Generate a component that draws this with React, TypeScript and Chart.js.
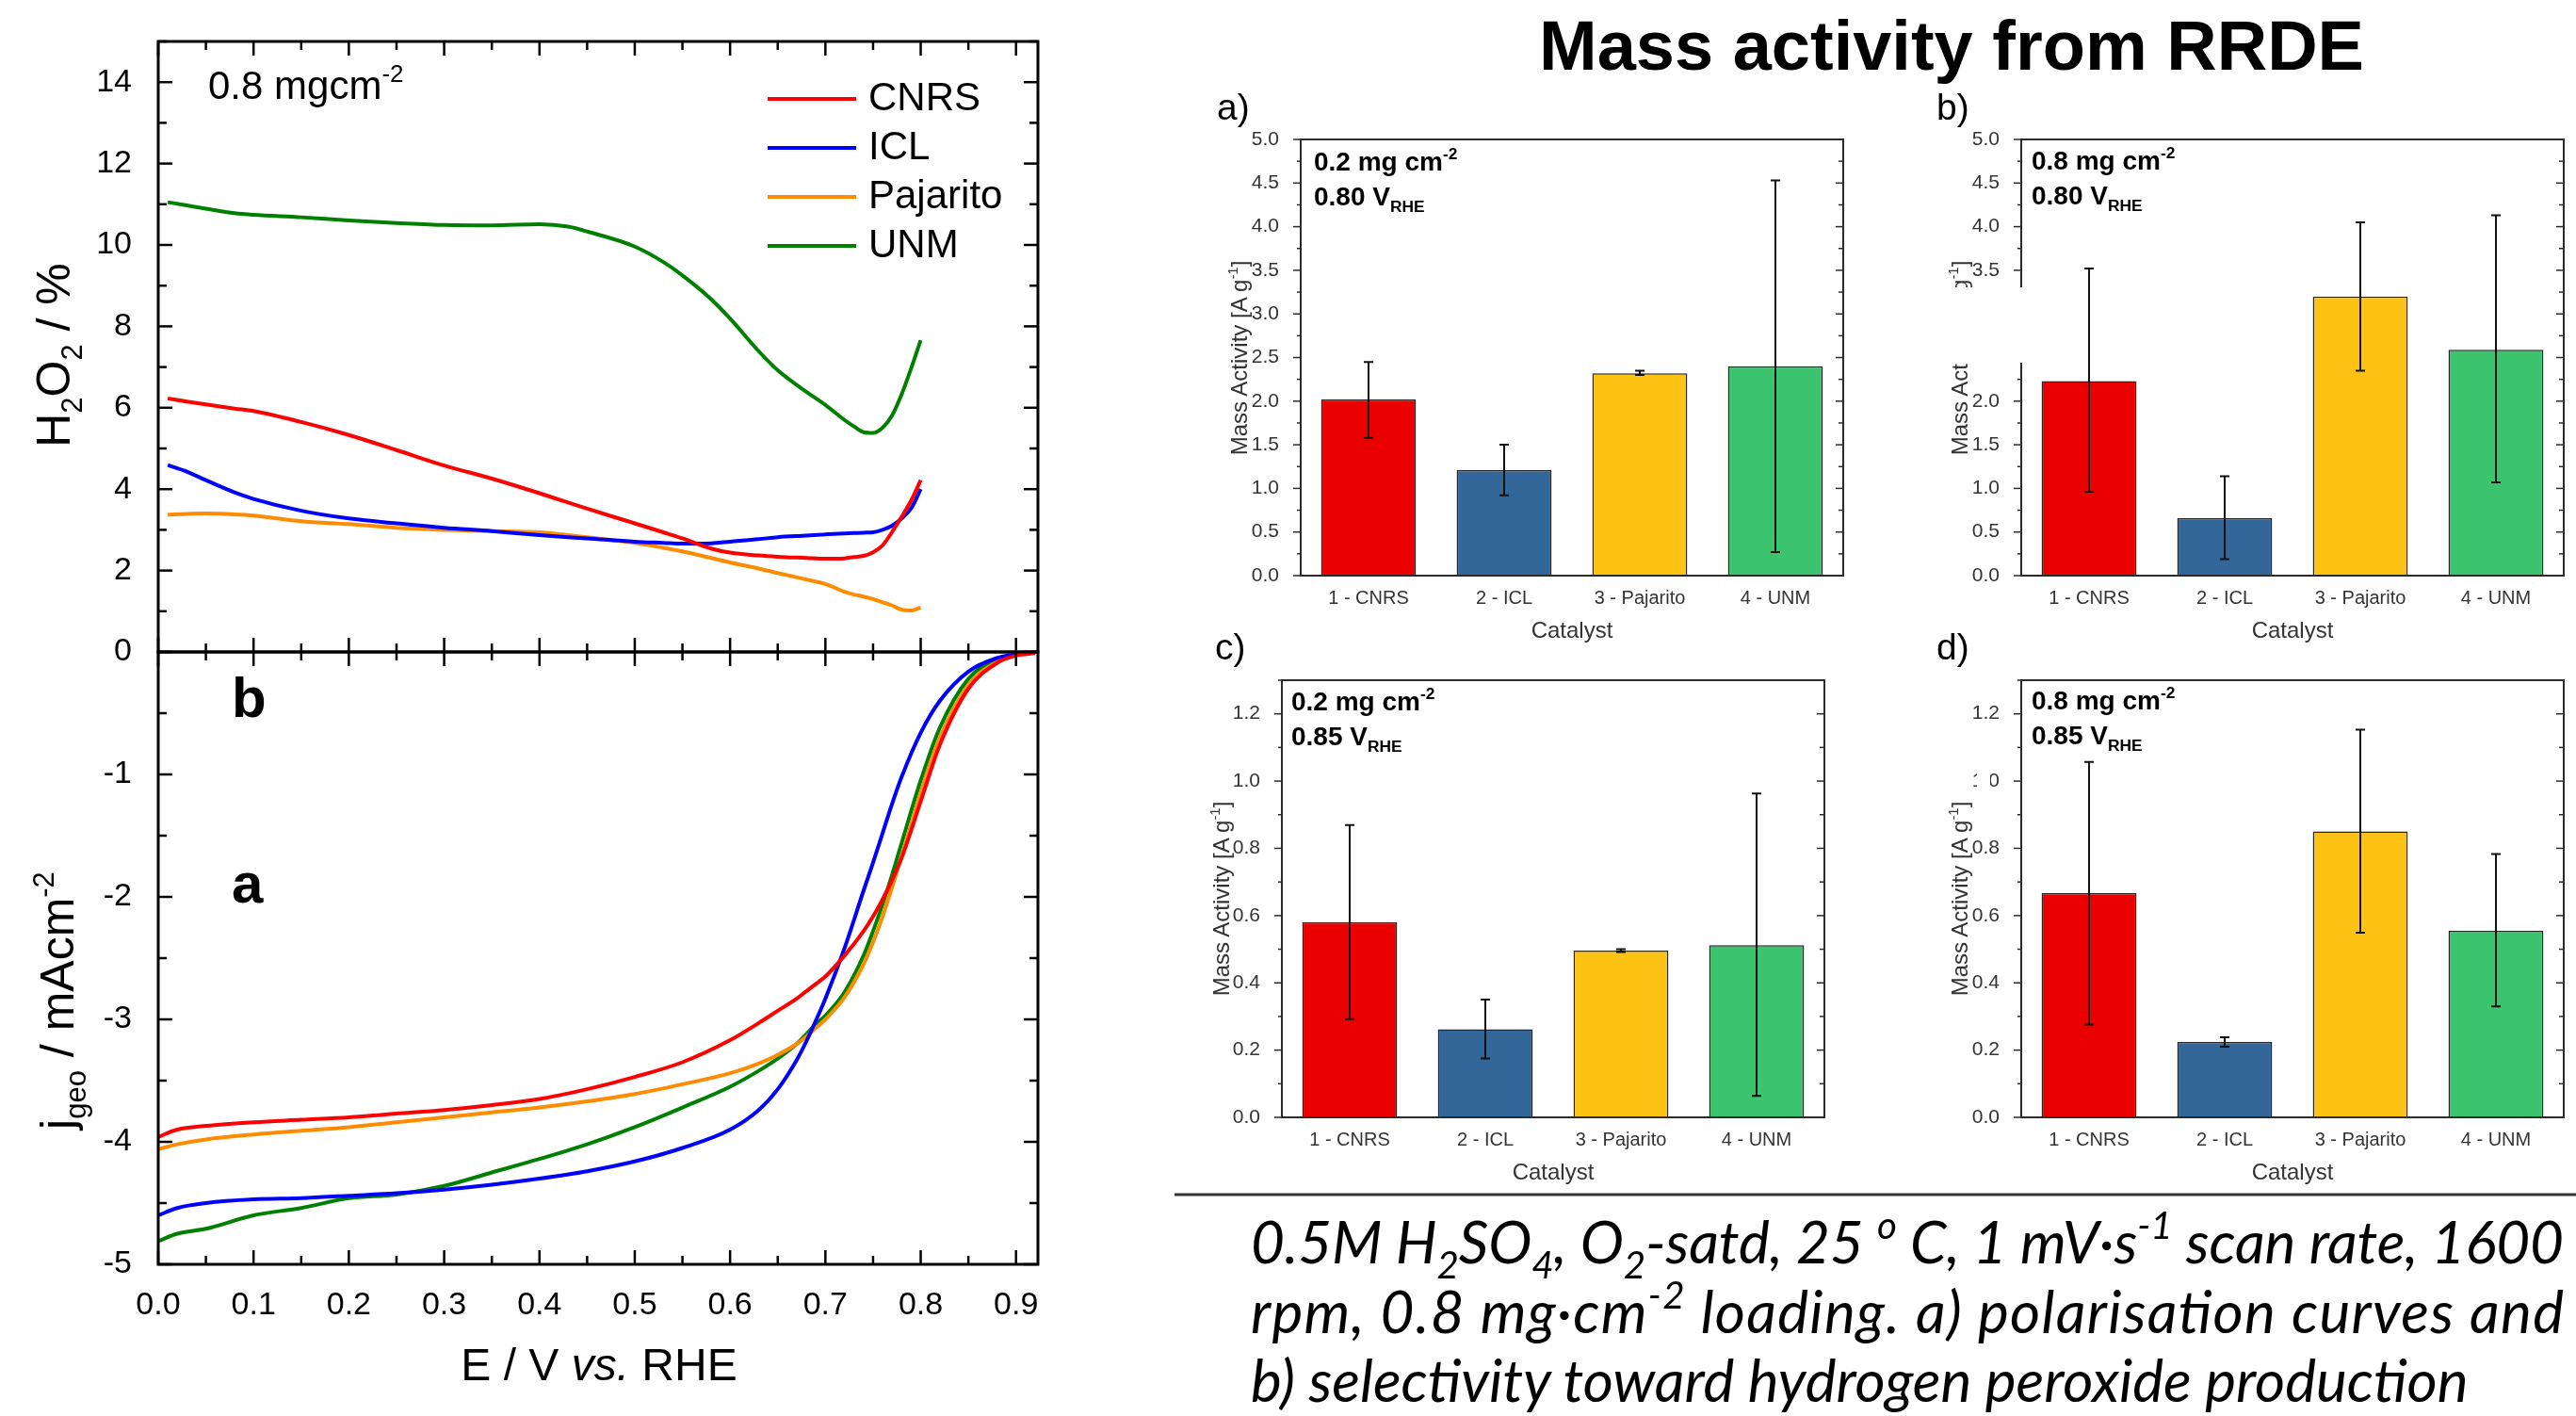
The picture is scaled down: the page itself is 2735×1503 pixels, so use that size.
import React, { useEffect, useRef } from 'react';
import { Chart, registerables } from 'chart.js';

Chart.register(...registerables);

const SANS = '"Liberation Sans", Arial, Helvetica, sans-serif';
const CAPTION_FONT = 'Lato, "Open Sans", "Noto Sans", sans-serif';

// ---------- Left panel: H2O2 selectivity (%) vs E ----------
const h2o2Potential = [0.01, 0.03, 0.05, 0.08, 0.1, 0.15, 0.2, 0.25, 0.3, 0.35, 0.4, 0.43, 0.45, 0.5, 0.53, 0.55, 0.58, 0.6, 0.63, 0.65, 0.68, 0.7, 0.72, 0.73, 0.74, 0.75, 0.76, 0.77, 0.78, 0.79, 0.8];
const h2o2CNRS = [6.23, 6.15, 6.08, 5.98, 5.92, 5.65, 5.33, 4.96, 4.58, 4.26, 3.9, 3.67, 3.52, 3.16, 2.94, 2.79, 2.54, 2.44, 2.37, 2.34, 2.31, 2.29, 2.3, 2.33, 2.36, 2.45, 2.62, 2.95, 3.32, 3.72, 4.22];
const h2o2ICL = [4.59, 4.43, 4.22, 3.92, 3.76, 3.47, 3.28, 3.16, 3.05, 2.97, 2.87, 2.82, 2.79, 2.71, 2.68, 2.66, 2.67, 2.71, 2.77, 2.82, 2.86, 2.89, 2.91, 2.92, 2.93, 2.94, 3.0, 3.1, 3.28, 3.53, 4.0];
const h2o2Pajarito = [3.37, 3.39, 3.4, 3.38, 3.35, 3.21, 3.14, 3.05, 3.0, 2.97, 2.94, 2.87, 2.82, 2.68, 2.56, 2.47, 2.31, 2.2, 2.05, 1.94, 1.78, 1.67, 1.48, 1.41, 1.36, 1.3, 1.22, 1.14, 1.04, 1.02, 1.09];
const h2o2UNM = [11.05, 10.97, 10.89, 10.78, 10.74, 10.68, 10.6, 10.54, 10.49, 10.48, 10.51, 10.45, 10.33, 9.96, 9.58, 9.25, 8.67, 8.19, 7.39, 6.92, 6.39, 6.07, 5.7, 5.54, 5.4, 5.38, 5.51, 5.81, 6.33, 6.97, 7.66];

// ---------- Left panel: polarisation curves j_geo (mA cm-2) vs E ----------
const jPotential = [0, 0.02, 0.05, 0.1, 0.15, 0.2, 0.25, 0.3, 0.35, 0.4, 0.45, 0.5, 0.55, 0.6, 0.63, 0.65, 0.67, 0.68, 0.69, 0.7, 0.72, 0.74, 0.75, 0.76, 0.77, 0.78, 0.8, 0.82, 0.85, 0.88, 0.9, 0.92];
const jCNRS = [-3.96, -3.9, -3.87, -3.84, -3.82, -3.8, -3.77, -3.74, -3.7, -3.65, -3.57, -3.47, -3.35, -3.17, -3.03, -2.93, -2.83, -2.77, -2.71, -2.65, -2.48, -2.28, -2.16, -2.02, -1.86, -1.68, -1.22, -0.76, -0.3, -0.09, -0.03, -0.01];
const jICL = [-4.6, -4.54, -4.5, -4.47, -4.46, -4.44, -4.42, -4.39, -4.35, -4.3, -4.24, -4.16, -4.05, -3.9, -3.74, -3.57, -3.33, -3.18, -3.01, -2.83, -2.42, -1.95, -1.72, -1.48, -1.24, -1.02, -0.66, -0.4, -0.16, -0.05, -0.02, 0];
const jPajarito = [-4.06, -4.02, -3.98, -3.94, -3.91, -3.88, -3.84, -3.8, -3.76, -3.72, -3.67, -3.61, -3.53, -3.44, -3.36, -3.29, -3.2, -3.14, -3.07, -3.0, -2.82, -2.55, -2.37, -2.16, -1.92, -1.67, -1.15, -0.7, -0.27, -0.08, -0.02, 0];
const jUNM = [-4.81, -4.75, -4.71, -4.6, -4.54, -4.46, -4.43, -4.36, -4.25, -4.14, -4.02, -3.88, -3.72, -3.55, -3.42, -3.32, -3.2, -3.12, -3.04, -2.97, -2.78, -2.48, -2.28, -2.06, -1.82, -1.56, -1.05, -0.62, -0.22, -0.06, -0.02, 0];

const seriesNames = ['CNRS', 'ICL', 'Pajarito', 'UNM'];
const seriesColors = ['#FF0000', '#0000FF', '#FF8C00', '#008000'];
const h2o2Series = [h2o2CNRS, h2o2ICL, h2o2Pajarito, h2o2UNM];
const jSeries = [jCNRS, jICL, jPajarito, jUNM];

// ---------- Right panel: mass activity bars ----------
const catalysts = ['1 - CNRS', '2 - ICL', '3 - Pajarito', '4 - UNM'];
const barColors = ['#EB0000', '#336699', '#FDC314', '#3CC36D'];

const maA = [2.02, 1.21, 2.32, 2.4];
const maALow = [1.58, 0.92, 2.3, 0.27];
const maAHigh = [2.45, 1.5, 2.35, 4.53];

const maB = [2.23, 0.66, 3.2, 2.59];
const maBLow = [0.96, 0.19, 2.35, 1.07];
const maBHigh = [3.52, 1.14, 4.05, 4.13];

const maC = [0.581, 0.262, 0.496, 0.512];
const maCLow = [0.292, 0.175, 0.492, 0.064];
const maCHigh = [0.869, 0.35, 0.5, 0.963];

const maD = [0.667, 0.224, 0.85, 0.555];
const maDLow = [0.276, 0.21, 0.549, 0.33];
const maDHigh = [1.057, 0.238, 1.153, 0.783];

// ---------- plugins ----------
const errorBarPlugin = {
  id: 'errorBars',
  afterDatasetsDraw(chart: any, _a: any, o: any) {
    if (!o || !o.display) return;
    const { ctx } = chart;
    const ys = chart.scales.y;
    const ds = chart.data.datasets[0];
    const meta = chart.getDatasetMeta(0);
    ctx.save();
    ctx.strokeStyle = o.color;
    ctx.lineWidth = o.width;
    meta.data.forEach((bar: any, i: number) => {
      const x = bar.x;
      const yl = ys.getPixelForValue(ds.errLow[i]);
      const yh = ys.getPixelForValue(ds.errHigh[i]);
      ctx.beginPath();
      ctx.moveTo(x, yl);
      ctx.lineTo(x, yh);
      ctx.moveTo(x - o.cap, yl);
      ctx.lineTo(x + o.cap, yl);
      ctx.moveTo(x - o.cap, yh);
      ctx.lineTo(x + o.cap, yh);
      ctx.stroke();
    });
    ctx.restore();
  },
};

const frameTicksPlugin = {
  id: 'frameTicks',
  afterDatasetsDraw(chart: any, _a: any, o: any) {
    if (!o || !o.display) return;
    const { ctx, chartArea: a } = chart;
    const xs = chart.scales.x;
    const ys = chart.scales.y;
    const marks = (scale: any, major: number, minor: number) => {
      const out: { p: number; major: boolean }[] = [];
      const lo = Math.min(scale.min, scale.max);
      const hi = Math.max(scale.min, scale.max);
      const n0 = Math.ceil(lo / minor - 1e-6);
      const n1 = Math.floor(hi / minor + 1e-6);
      for (let n = n0; n <= n1; n++) {
        const v = n * minor;
        const r = v / major;
        out.push({ p: scale.getPixelForValue(v), major: Math.abs(r - Math.round(r)) < 1e-6 });
      }
      return out;
    };
    ctx.save();
    ctx.strokeStyle = o.color;
    ctx.lineWidth = o.tickWidth;
    const sides = o.sides || {};
    if (o.yMajor) {
      const ym = marks(ys, o.yMajor, o.yMinor);
      ['left', 'right'].forEach((s) => {
        const sp = sides[s];
        if (!sp) return;
        const x0 = s === 'left' ? a.left : a.right;
        const sign = (s === 'left' ? 1 : -1) * sp.dir;
        ym.forEach((m) => {
          const len = m.major ? sp.major : sp.minor;
          ctx.beginPath();
          ctx.moveTo(x0, m.p);
          ctx.lineTo(x0 + sign * len, m.p);
          ctx.stroke();
        });
      });
    }
    if (o.xMajor) {
      const xm = marks(xs, o.xMajor, o.xMinor);
      ['top', 'bottom'].forEach((s) => {
        const sp = sides[s];
        if (!sp) return;
        const y0 = s === 'top' ? a.top : a.bottom;
        const sign = (s === 'top' ? 1 : -1) * sp.dir;
        xm.forEach((m) => {
          const len = m.major ? sp.major : sp.minor;
          ctx.beginPath();
          ctx.moveTo(m.p, y0);
          ctx.lineTo(m.p, y0 + sign * len);
          ctx.stroke();
        });
      });
    }
    ctx.lineWidth = o.frameWidth;
    ctx.strokeRect(a.left, a.top, a.right - a.left, a.bottom - a.top);
    ctx.restore();
  },
};

const lineLegendPlugin = {
  id: 'lineLegend',
  afterDraw(chart: any, _a: any, o: any) {
    if (!o || !o.display) return;
    const { ctx } = chart;
    ctx.save();
    chart.data.datasets.forEach((ds: any, i: number) => {
      const y = o.y + i * o.spacing;
      ctx.strokeStyle = ds.borderColor;
      ctx.lineWidth = o.lineWidth;
      ctx.beginPath();
      ctx.moveTo(o.x1, y);
      ctx.lineTo(o.x2, y);
      ctx.stroke();
      ctx.fillStyle = '#000';
      ctx.font = `${o.size}px ${SANS}`;
      ctx.textBaseline = 'middle';
      ctx.textAlign = 'left';
      ctx.fillText(ds.label, o.textX, y);
    });
    ctx.restore();
  },
};

// ---------- chart configs ----------
const leftSides = {
  left: { dir: 1, major: 15, minor: 9 },
  right: { dir: 1, major: 15, minor: 9 },
  top: { dir: 1, major: 15, minor: 9 },
  bottom: { dir: 1, major: 15, minor: 9 },
};

function lineDatasets(xs: number[], series: number[][]) {
  return seriesNames.map((name, i) => ({
    label: name,
    data: xs.map((x, k) => ({ x, y: series[i][k] })),
    borderColor: seriesColors[i],
    backgroundColor: seriesColors[i],
    borderWidth: 4,
    pointRadius: 0,
    cubicInterpolationMode: 'monotone',
    fill: false,
  }));
}

const tickFontLeft = { family: SANS, size: 34 };

function upperConfig() {
  return {
    type: 'line',
    data: { datasets: lineDatasets(h2o2Potential, h2o2Series) },
    options: {
      responsive: false,
      animation: false,
      devicePixelRatio: 1,
      layout: { padding: { left: 0, top: 44, right: 28, bottom: 42 } },
      plugins: {
        legend: { display: false },
        tooltip: { enabled: false },
        frameTicks: { display: true, color: '#000', tickWidth: 2.5, frameWidth: 3, sides: leftSides, xMajor: 0.1, xMinor: 0.05, yMajor: 2, yMinor: 1 },
        lineLegend: { display: true, x1: 815, x2: 909, textX: 922, y: 105, spacing: 52, lineWidth: 4, size: 42 },
      },
      scales: {
        x: { type: 'linear', min: 0, max: 0.923, display: false },
        y: {
          type: 'linear',
          min: 0,
          max: 15,
          afterFit: (s: any) => { s.width = 168; },
          grid: { display: false },
          border: { display: false },
          ticks: { stepSize: 2, includeBounds: false, padding: 20, color: '#000', font: tickFontLeft, callback: (v: any) => String(v) },
        },
      },
    },
    plugins: [frameTicksPlugin, lineLegendPlugin],
  };
}

function lowerConfig() {
  return {
    type: 'line',
    data: { datasets: lineDatasets(jPotential, jSeries) },
    options: {
      responsive: false,
      animation: false,
      devicePixelRatio: 1,
      layout: { padding: { left: 0, top: 92, right: 28, bottom: 0 } },
      plugins: {
        legend: { display: false },
        tooltip: { enabled: false },
        frameTicks: { display: true, color: '#000', tickWidth: 2.5, frameWidth: 3, sides: leftSides, xMajor: 0.1, xMinor: 0.05, yMajor: 1, yMinor: 0.5 },
      },
      scales: {
        x: {
          type: 'linear',
          min: 0,
          max: 0.923,
          afterFit: (s: any) => { s.height = 161; },
          grid: { display: false },
          border: { display: false },
          ticks: { stepSize: 0.1, includeBounds: false, padding: 15, color: '#000', font: tickFontLeft, autoSkip: false, maxRotation: 0, callback: (v: any) => Number(v).toFixed(1) },
        },
        y: {
          type: 'linear',
          min: -5,
          max: 0,
          afterFit: (s: any) => { s.width = 168; },
          grid: { display: false },
          border: { display: false },
          ticks: { stepSize: 1, includeBounds: false, padding: 20, color: '#000', font: tickFontLeft, callback: (v: any) => (Number(v) === 0 ? '' : String(v)) },
        },
      },
    },
    plugins: [frameTicksPlugin],
  };
}

function barConfig(values: number[], low: number[], high: number[], ymax: number, ystep: number, padRight: number) {
  return {
    type: 'bar',
    data: {
      labels: catalysts,
      datasets: [{
        data: values,
        errLow: low,
        errHigh: high,
        backgroundColor: barColors,
        borderColor: '#262626',
        borderWidth: 1.5,
        barPercentage: 0.7,
        categoryPercentage: 1,
      }],
    },
    options: {
      responsive: false,
      animation: false,
      devicePixelRatio: 1,
      layout: { padding: { left: 0, top: 28, right: padRight, bottom: 0 } },
      plugins: {
        legend: { display: false },
        tooltip: { enabled: false },
        errorBars: { display: true, color: '#111', width: 2, cap: 5 },
        frameTicks: {
          display: true, color: '#2b2b2b', tickWidth: 1.5, frameWidth: 2,
          sides: { left: { dir: -1, major: 8, minor: 4 }, right: { dir: 1, major: 8, minor: 5 } },
          yMajor: ystep, yMinor: ystep / 2,
        },
      },
      scales: {
        x: {
          afterFit: (s: any) => { s.height = 90; },
          grid: { display: false },
          border: { display: false },
          ticks: { padding: 4, color: '#333', font: { family: SANS, size: 20 }, autoSkip: false, maxRotation: 0 },
          title: { display: true, text: 'Catalyst', color: '#333', font: { family: SANS, size: 24 }, padding: { top: 0, bottom: 16 } },
        },
        y: {
          min: 0,
          max: ymax,
          afterFit: (s: any) => { s.width = 80; },
          grid: { display: false },
          border: { display: false },
          ticks: { stepSize: ystep, includeBounds: false, padding: 15, color: '#333', font: { family: SANS, size: 21 }, callback: (v: any) => Number(v).toFixed(1) },
        },
      },
    },
    plugins: [errorBarPlugin, frameTicksPlugin],
  };
}

// ---------- components ----------
type Box = { left: number; top: number; width: number; height: number };

function ChartCanvas({ box, make }: { box: Box; make: () => any }) {
  const ref = useRef<HTMLCanvasElement | null>(null);
  useEffect(() => {
    if (!ref.current) return;
    const chart = new Chart(ref.current, make());
    return () => chart.destroy();
  }, []);
  return (
    <div style={{ position: 'absolute', left: box.left, top: box.top, width: box.width, height: box.height }}>
      <canvas ref={ref} width={box.width} height={box.height} style={{ display: 'block' }} />
    </div>
  );
}

type Seg = [string, string?];

function RichText(props: {
  x: number; y: number; size: number; segs: Seg[]; anchor?: string; rotate?: number;
  bold?: boolean; italic?: boolean; family?: string; color?: string; fit?: number; scriptScale?: number;
}) {
  const { x, y, size, segs, anchor = 'start', rotate = 0, bold = false, italic = false, family = SANS, color = '#000', fit, scriptScale = 0.62 } = props;
  let shift = 0;
  const kids = segs.map(([t, kind], i) => {
    const target = kind === 'sub' ? size * 0.26 : kind === 'sup' ? -size * 0.42 : 0;
    const dy = target - shift;
    shift = target;
    const small = kind === 'sub' || kind === 'sup';
    return (
      <tspan key={i} dy={dy} fontSize={small ? size * scriptScale : size} fontStyle={kind === 'i' ? 'italic' : undefined}>
        {t}
      </tspan>
    );
  });
  return (
    <text
      x={x}
      y={y}
      fontSize={size}
      fontFamily={family}
      fontWeight={bold ? 700 : 400}
      fontStyle={italic ? 'italic' : 'normal'}
      textAnchor={anchor as any}
      fill={color}
      transform={rotate ? `rotate(${rotate} ${x} ${y})` : undefined}
      textLength={fit}
      lengthAdjust={fit ? 'spacing' : undefined}
      style={{ whiteSpace: 'pre' }}
    >
      {kids}
    </text>
  );
}

const massTitle: Seg[] = [['Mass Activity [A g'], ['-1', 'sup'], [']']];

export default function App() {
  return (
    <div style={{ position: 'absolute', left: 0, top: 0, width: 2735, height: 1503, background: '#fff', overflow: 'hidden' }}>
      <ChartCanvas box={{ left: 0, top: 0, width: 1130, height: 734 }} make={upperConfig} />
      <ChartCanvas box={{ left: 0, top: 600, width: 1130, height: 903 }} make={lowerConfig} />
      <ChartCanvas box={{ left: 1301, top: 120, width: 671, height: 581 }} make={() => barConfig(maA, maALow, maAHigh, 5, 0.5, 15)} />
      <ChartCanvas box={{ left: 2066, top: 120, width: 669, height: 581 }} make={() => barConfig(maB, maBLow, maBHigh, 5, 0.5, 13)} />
      <ChartCanvas box={{ left: 1281, top: 694, width: 671, height: 582 }} make={() => barConfig(maC, maCLow, maCHigh, 1.3, 0.2, 15)} />
      <ChartCanvas box={{ left: 2066, top: 694, width: 669, height: 582 }} make={() => barConfig(maD, maDLow, maDHigh, 1.3, 0.2, 13)} />

      <svg width={2735} height={1503} style={{ position: 'absolute', left: 0, top: 0 }}>
        {/* left panel texts */}
        <RichText x={74} y={377} size={50} rotate={-90} anchor="middle" segs={[['H'], ['2', 'sub'], ['O'], ['2', 'sub'], [' / %']]} />
        <RichText x={78} y={1062} size={50} rotate={-90} anchor="middle" segs={[['j'], ['geo', 'sub'], [' / mAcm'], ['-2', 'sup']]} />
        <RichText x={636} y={1465} size={48} anchor="middle" segs={[['E / V '], ['vs.', 'i'], [' RHE']]} />
        <RichText x={221} y={105} size={42} segs={[['0.8 mgcm'], ['-2', 'sup']]} />
        <RichText x={246} y={761} size={60} bold segs={[['b']]} />
        <RichText x={246} y={958} size={60} bold segs={[['a']]} />

        {/* right panel texts */}
        <RichText x={2072} y={74} size={74} bold anchor="middle" segs={[['Mass activity from RRDE']]} />
        <RichText x={1292} y={127} size={39} segs={[['a)']]} />
        <RichText x={2056} y={127} size={39} segs={[['b)']]} />
        <RichText x={1290} y={700} size={39} segs={[['c)']]} />
        <RichText x={2056} y={700} size={39} segs={[['d)']]} />

        <RichText x={1395} y={181} size={28} bold segs={[['0.2 mg cm'], ['-2', 'sup']]} />
        <RichText x={1395} y={218} size={28} bold segs={[['0.80 V'], ['RHE', 'sub']]} />
        <RichText x={2157} y={180} size={28} bold segs={[['0.8 mg cm'], ['-2', 'sup']]} />
        <RichText x={2157} y={217} size={28} bold segs={[['0.80 V'], ['RHE', 'sub']]} />
        <RichText x={1371} y={754} size={28} bold segs={[['0.2 mg cm'], ['-2', 'sup']]} />
        <RichText x={1371} y={791} size={28} bold segs={[['0.85 V'], ['RHE', 'sub']]} />
        <RichText x={2157} y={753} size={28} bold segs={[['0.8 mg cm'], ['-2', 'sup']]} />
        <RichText x={2157} y={790} size={28} bold segs={[['0.85 V'], ['RHE', 'sub']]} />

        <RichText x={1324} y={380} size={24} rotate={-90} anchor="middle" color="#333" segs={massTitle} />
        <RichText x={2089} y={380} size={24} rotate={-90} anchor="middle" color="#333" segs={massTitle} />
        <RichText x={1305} y={954} size={24} rotate={-90} anchor="middle" color="#333" segs={massTitle} />
        <RichText x={2089} y={954} size={24} rotate={-90} anchor="middle" color="#333" segs={massTitle} />

        <line x1={1247} y1={1268} x2={2735} y2={1268} stroke="#333" strokeWidth={3} />

        <RichText x={1328} y={1341} size={62} italic family={CAPTION_FONT} fit={1394} scriptScale={0.65}
          segs={[['0.5M H'], ['2', 'sub'], ['SO'], ['4', 'sub'], [', O'], ['2', 'sub'], ['-satd, 25 '], ['o', 'sup'], [' C, 1 mV\u00B7s'], ['-1', 'sup'], [' scan rate, 1600']]} />
        <RichText x={1328} y={1415} size={62} italic family={CAPTION_FONT} fit={1394} scriptScale={0.65}
          segs={[['rpm, 0.8 mg\u00B7cm'], ['-2', 'sup'], [' loading. a) polarisation curves and']]} />
        <RichText x={1328} y={1488} size={62} italic family={CAPTION_FONT}
          segs={[['b) selectivity toward hydrogen peroxide production']]} />
      </svg>

      {/* white patches present in the source figure */}
      <div style={{ position: 'absolute', left: 2030, top: 305, width: 119, height: 80, background: '#fff' }} />
      <div style={{ position: 'absolute', left: 2099, top: 816, width: 14, height: 26, background: '#fff' }} />
    </div>
  );
}
